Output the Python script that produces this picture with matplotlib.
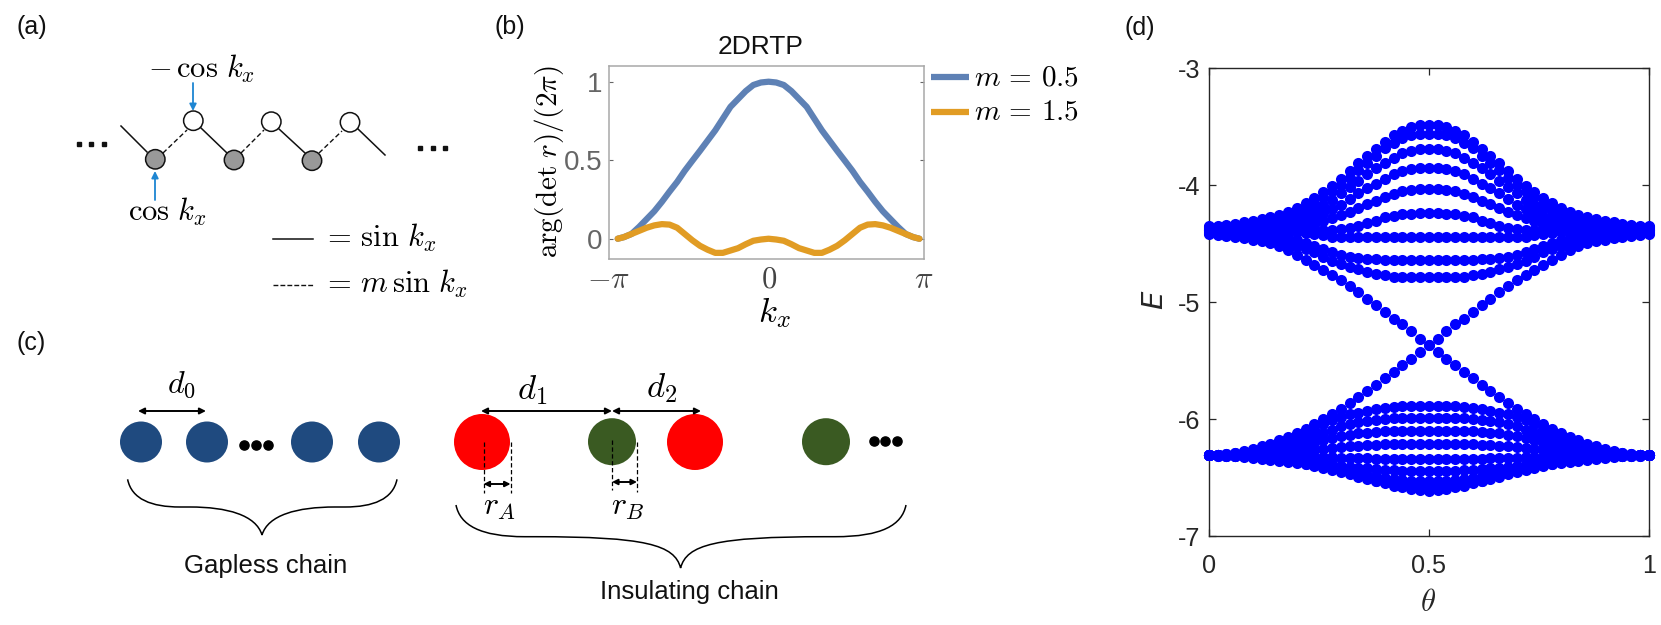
import numpy as np
import matplotlib
matplotlib.use("Agg")
import matplotlib.pyplot as plt
from matplotlib.patches import Circle, Ellipse, PathPatch
from matplotlib.path import Path

plt.rcParams['font.family'] = ['Liberation Sans', 'DejaVu Sans']
plt.rcParams['mathtext.fontset'] = 'cm'

W, H = 1661, 625

# ---- panel (b) data: half curves from k=0 outwards
k_half = [0, .15, .3, .45, .6, .75, .9, 1.05, 1.2, 1.35, 1.5, 1.65, 1.8, 1.95, 2.1, 2.25, 2.4, 2.55, 2.7, 2.85, 2.97]
m05_half = [1, .995, .979, .94, .89, .84, .765, .69, .625, .56, .497, .433, .362, .30, .235, .175, .125, .075, .03, .01, 0]
m15_half = [0, -.005, -.013, -.035, -.06, -.075, -.09, -.09, -.07, -.045, -.01, .03, .07, .09, .093, .085, .07, .05, .03, .01, 0]

# ---- panel (d) data: E per band for theta = 0, 0.02, ..., 0.5 (the spectrum is mirror symmetric)
theta_half = [i * 0.02 for i in range(26)]
u1 = [-4.353,-4.345,-4.339,-4.330,-4.316,-4.305,-4.291,-4.276,-4.254,-4.225,-4.191,-4.154,-4.111,-4.054,-4.006,-3.946,-3.875,-3.812,-3.746,-3.689,-3.630,-3.573,-3.535,-3.504,-3.487,-3.484]
u2 = [-4.360,-4.355,-4.350,-4.345,-4.338,-4.332,-4.325,-4.315,-4.300,-4.273,-4.239,-4.196,-4.154,-4.102,-4.048,-3.997,-3.934,-3.869,-3.812,-3.746,-3.684,-3.635,-3.598,-3.573,-3.564,-3.561]
u3 = [-4.368,-4.365,-4.362,-4.358,-4.354,-4.350,-4.345,-4.339,-4.325,-4.302,-4.273,-4.245,-4.205,-4.168,-4.125,-4.068,-4.014,-3.960,-3.906,-3.855,-3.806,-3.763,-3.726,-3.704,-3.689,-3.689]
u4 = [-4.375,-4.375,-4.374,-4.372,-4.370,-4.368,-4.365,-4.362,-4.353,-4.342,-4.325,-4.302,-4.273,-4.239,-4.205,-4.165,-4.120,-4.068,-4.028,-3.986,-3.943,-3.903,-3.880,-3.860,-3.852,-3.849]
u5 = [-4.382,-4.382,-4.382,-4.382,-4.382,-4.382,-4.382,-4.382,-4.379,-4.376,-4.370,-4.359,-4.339,-4.310,-4.282,-4.253,-4.225,-4.196,-4.162,-4.131,-4.102,-4.077,-4.051,-4.045,-4.034,-4.034]
u6 = [-4.385,-4.385,-4.385,-4.385,-4.385,-4.385,-4.385,-4.385,-4.385,-4.385,-4.385,-4.385,-4.385,-4.385,-4.382,-4.373,-4.362,-4.347,-4.325,-4.305,-4.273,-4.262,-4.248,-4.242,-4.239,-4.239]
u7 = [-4.390,-4.391,-4.392,-4.393,-4.394,-4.395,-4.396,-4.397,-4.398,-4.399,-4.402,-4.406,-4.416,-4.427,-4.439,-4.442,-4.444,-4.444,-4.444,-4.444,-4.444,-4.444,-4.444,-4.444,-4.444,-4.444]
u8 = [-4.398,-4.400,-4.402,-4.404,-4.407,-4.410,-4.413,-4.418,-4.427,-4.444,-4.467,-4.490,-4.518,-4.547,-4.575,-4.598,-4.612,-4.624,-4.632,-4.635,-4.638,-4.638,-4.638,-4.638,-4.638,-4.638]
u9 = [-4.407,-4.412,-4.416,-4.421,-4.427,-4.433,-4.441,-4.453,-4.473,-4.496,-4.524,-4.547,-4.575,-4.610,-4.644,-4.672,-4.701,-4.718,-4.743,-4.758,-4.769,-4.781,-4.786,-4.789,-4.789,-4.789]
u10 = [-4.416,-4.425,-4.430,-4.442,-4.453,-4.467,-4.481,-4.496,-4.524,-4.558,-4.601,-4.638,-4.681,-4.721,-4.772,-4.809,-4.860,-4.917,-4.969,-5.028,-5.085,-5.140,-5.191,-5.251,-5.316,-5.365]
l10 = [-6.311,-6.308,-6.296,-6.288,-6.271,-6.253,-6.234,-6.211,-6.182,-6.154,-6.120,-6.085,-6.043,-6.000,-5.960,-5.912,-5.863,-5.812,-5.758,-5.706,-5.652,-5.595,-5.541,-5.484,-5.427,-5.365]
l1 = [-6.311,-6.306,-6.300,-6.291,-6.280,-6.269,-6.254,-6.240,-6.220,-6.192,-6.157,-6.120,-6.086,-6.043,-6.012,-5.984,-5.958,-5.944,-5.927,-5.915,-5.907,-5.898,-5.892,-5.887,-5.887,-5.887]
l2 = [-6.311,-6.308,-6.306,-6.300,-6.294,-6.288,-6.280,-6.269,-6.254,-6.234,-6.212,-6.183,-6.149,-6.120,-6.092,-6.063,-6.043,-6.026,-6.015,-6.006,-6.001,-5.995,-5.992,-5.992,-5.992,-5.992]
l3 = [-6.311,-6.311,-6.308,-6.306,-6.303,-6.300,-6.294,-6.288,-6.277,-6.263,-6.249,-6.229,-6.206,-6.183,-6.166,-6.149,-6.135,-6.123,-6.115,-6.109,-6.106,-6.103,-6.100,-6.100,-6.100,-6.100]
l4 = [-6.311,-6.311,-6.311,-6.311,-6.308,-6.308,-6.306,-6.306,-6.303,-6.300,-6.291,-6.280,-6.266,-6.254,-6.246,-6.240,-6.234,-6.229,-6.223,-6.220,-6.217,-6.217,-6.217,-6.217,-6.217,-6.217]
l5 = [-6.311,-6.311,-6.311,-6.311,-6.311,-6.311,-6.311,-6.311,-6.314,-6.314,-6.317,-6.320,-6.323,-6.326,-6.328,-6.331,-6.334,-6.337,-6.337,-6.340,-6.340,-6.340,-6.340,-6.340,-6.340,-6.340]
l6 = [-6.311,-6.311,-6.314,-6.314,-6.317,-6.320,-6.323,-6.328,-6.334,-6.343,-6.354,-6.363,-6.371,-6.380,-6.388,-6.400,-6.408,-6.417,-6.422,-6.428,-6.434,-6.439,-6.442,-6.445,-6.448,-6.448]
l7 = [-6.311,-6.314,-6.314,-6.317,-6.320,-6.328,-6.334,-6.343,-6.351,-6.360,-6.371,-6.382,-6.394,-6.408,-6.422,-6.434,-6.448,-6.462,-6.476,-6.491,-6.505,-6.514,-6.522,-6.528,-6.533,-6.533]
l8 = [-6.311,-6.314,-6.317,-6.320,-6.326,-6.331,-6.340,-6.348,-6.357,-6.365,-6.377,-6.388,-6.402,-6.417,-6.434,-6.454,-6.474,-6.494,-6.511,-6.528,-6.542,-6.553,-6.565,-6.576,-6.582,-6.585]
l9 = [-6.311,-6.311,-6.311,-6.313,-6.316,-6.319,-6.322,-6.325,-6.330,-6.339,-6.348,-6.356,-6.365,-6.376,-6.393,-6.413,-6.439,-6.470,-6.499,-6.527,-6.550,-6.570,-6.584,-6.595,-6.607,-6.612]
bands = [u1, u2, u3, u4, u5, u6, u7, u8, u9, u10, l10, l1, l2, l3, l4, l5, l6, l7, l8, l9]

fig = plt.figure(figsize=(W / 100, H / 100), dpi=100, facecolor='white')

def panel(l, t, r, b):
    return fig.add_axes([l / W, 1 - b / H, (r - l) / W, (b - t) / H])

# overlay in pixel coordinates for the schematics
ov = fig.add_axes([0, 0, 1, 1], zorder=0)
ov.set_xlim(0, W); ov.set_ylim(H, 0); ov.axis('off')

for s, x, y in [('(a)', 17, 27), ('(b)', 495, 27), ('(c)', 16, 343), ('(d)', 1125, 28)]:
    ov.text(x, y, s, fontsize=18, ha='left', va='center', color='#111111')

# ---- (a)
open_sites = [(193.3, 120.7), (271.3, 121.7), (350, 122.3)]
fill_sites = [(155.3, 159.3), (234, 160), (312, 160.7)]
solid = [((121, 126), (147, 152)), ((201, 128), (227, 153)), ((279, 129), (305, 153)), ((358, 129), (385, 155))]
dashed = [((163, 153), (187, 130)), ((241, 153), (264, 130)), ((319, 153), (342, 131))]
for a, b in solid:
    ov.plot([a[0], b[0]], [a[1], b[1]], color='#111111', lw=1.1)
for a, b in dashed:
    ov.plot([a[0], b[0]], [a[1], b[1]], color='#111111', lw=1.0, dashes=(3.5, 2))
for c in open_sites:
    ov.add_patch(Circle(c, 9.7, fc='white', ec='#111111', lw=1.1, zorder=3))
for c in fill_sites:
    ov.add_patch(Circle(c, 9.7, fc='#999999', ec='#111111', lw=1.1, zorder=3))
for xs, y in [((79, 91, 104), 144), ((420, 433, 445), 148)]:
    ov.plot(xs, [y] * 3, ls='none', marker='s', ms=2.2, color='#111111')
for p0, p1 in [((193, 83), (193, 111)), ((155, 200), (155, 171))]:
    ov.annotate('', xy=p1, xytext=p0, arrowprops=dict(arrowstyle='-|>', color='#1E86D2', lw=1.3, mutation_scale=10, shrinkA=0, shrinkB=0))
ov.text(202, 69, r'$-\,\cos\,k_x$', fontsize=22, ha='center', va='center')
ov.text(167, 212, r'$\cos\,k_x$', fontsize=22, ha='center', va='center')
ov.plot([273, 313], [239, 239], color='#111111', lw=1.1)
ov.plot([273, 313], [285, 285], color='#111111', lw=1.0, dashes=(3.5, 1.5))
ov.text(322, 238, r'$=\,\sin\,k_x$', fontsize=22, ha='left', va='center')
ov.text(322, 284, r'$=\,m\,\sin\,k_x$', fontsize=22, ha='left', va='center')

# ---- (c)
for x in (141, 207, 312, 379):
    ov.add_patch(Ellipse((x, 442), 42, 41, fc='#1F4A7F', ec='none', zorder=2))
for x in (482, 695):
    ov.add_patch(Ellipse((x, 442), 56, 56, fc='#FF0000', ec='none', zorder=2))
for x in (612, 826):
    ov.add_patch(Ellipse((x, 441.7), 48, 47, fc='#3A5A22', ec='none', zorder=2))
ov.plot((244, 256, 268), [445] * 3, ls='none', marker='o', ms=6.6, color='black')
ov.plot((873.5, 885, 897), [441] * 3, ls='none', marker='o', ms=6.6, color='black')
for x0, x1, y, ms in [(138, 206, 411, 9), (481, 612, 411, 9), (612, 701, 411, 9), (483.5, 510.6, 484, 8), (612, 637, 482, 8)]:
    ov.annotate('', xy=(x1, y), xytext=(x0, y), zorder=4,
                arrowprops=dict(arrowstyle='<|-|>', color='black', lw=1.4, mutation_scale=ms, shrinkA=0, shrinkB=0))
for x, y0, y1 in [(483.5, 442, 493), (510.6, 442, 493), (612, 440, 490), (637, 442, 492)]:
    ov.plot([x, x], [y0, y1], color='black', lw=0.9, dashes=(3.5, 2), zorder=4)
for s, x, y, fs in [(r'$d_0$', 181, 385, 23), (r'$d_1$', 532, 390, 25), (r'$d_2$', 662, 388, 25),
                    (r'$r_A$', 499, 507, 23), (r'$r_B$', 628, 507, 23)]:
    ov.text(x, y, s, fontsize=fs, ha='center', va='center')

def brace(x0, y0, xf1, yf, xt, yt, xf2, x1):
    verts = [(x0, y0), (x0 + 4, y0 + 20), (x0 + 24, yf), (xf1 - 10, yf), (xf1, yf),
             (xt - 35, yf), (xt - 6, yf + 8), (xt, yt),
             (xt + 6, yf + 8), (xt + 35, yf), (xf2, yf), (xf2 + 10, yf),
             (x1 - 24, yf), (x1 - 4, y0 + 20), (x1, y0)]
    codes = [Path.MOVETO, Path.CURVE4, Path.CURVE4, Path.CURVE4, Path.LINETO,
             Path.CURVE4, Path.CURVE4, Path.CURVE4, Path.CURVE4, Path.CURVE4, Path.CURVE4,
             Path.LINETO, Path.CURVE4, Path.CURVE4, Path.CURVE4]
    ov.add_patch(PathPatch(Path(verts, codes), fc='none', ec='black', lw=1.1))

brace(127.6, 479.3, 190, 507, 262, 535, 335, 397)
brace(456, 505, 535, 536.7, 680.6, 568, 825, 906)
ov.text(266, 565.5, 'Gapless chain', fontsize=18.5, ha='center', va='center', color='#111111')
ov.text(689, 591.5, 'Insulating chain', fontsize=18.5, ha='center', va='center', color='#111111')

# ---- (b)
axb = panel(609, 66, 923.5, 259.3)
k = np.array([-v for v in k_half[:0:-1]] + k_half)
axb.plot(k, m05_half[:0:-1] + m05_half, color='#5E81B5', lw=4.5, solid_capstyle='round')
axb.plot(k, m15_half[:0:-1] + m15_half, color='#E19C24', lw=4.5, solid_capstyle='round')
axb.set_xlim(-np.pi, 3.05)
axb.set_ylim(-0.131, 1.1)
axb.set_xticks([-np.pi, 0, 3.05], [r'$-\pi$', r'$0$', r'$\pi$'], fontsize=22, color='#444444')
axb.set_yticks([0, 0.5, 1], ['0', '0.5', '1'], fontsize=20, color='#666666')
axb.tick_params(axis='x', length=0, pad=4)
axb.tick_params(axis='y', length=3, width=0.8, color='#666666', direction='in', right=True, pad=5)
for s in axb.spines.values():
    s.set_color('#A8A8A8'); s.set_linewidth(1.1)
ov.text(761, 47, '2DRTP', fontsize=19, ha='center', va='center', color='#111111')
ov.text(549, 162, r'$\arg(\det\,r)/(2\pi)$', fontsize=21, rotation=90, ha='center', va='center')
ov.text(774, 313, r'$k_x$', fontsize=25, ha='center', va='center')
ov.plot([931, 969], [77, 77], color='#5E81B5', lw=4.5, solid_capstyle='butt')
ov.plot([931, 969], [112, 112], color='#E19C24', lw=4.5, solid_capstyle='butt')
ov.text(974, 77, r'$m\,=\,0.5$', fontsize=21, ha='left', va='center')
ov.text(974, 112, r'$m\,=\,1.5$', fontsize=21, ha='left', va='center')

# ---- (d)
axd = panel(1208.7, 68.3, 1648.7, 536)
theta = np.array(theta_half + [1 - t for t in theta_half[-2::-1]])
for band in bands:
    axd.plot(theta, band + band[-2::-1], ls='none', marker='o', ms=8, mew=0, color='#0000FF', clip_on=False, zorder=5)
axd.set_xlim(0, 1); axd.set_ylim(-7, -3)
axd.set_xticks([0, 0.5, 1], ['0', '0.5', '1'], fontsize=18.2, color='#262626')
axd.set_yticks([-7, -6, -5, -4, -3], ['-7', '-6', '-5', '-4', '-3'], fontsize=18.2, color='#262626')
axd.tick_params(direction='in', length=5, width=0.9, color='#262626', top=True, right=True)
axd.tick_params(axis='x', pad=13)
axd.tick_params(axis='y', pad=6)
for s in axd.spines.values():
    s.set_color('#262626'); s.set_linewidth(1.0)
ov.text(1155, 300, r'$E$', fontsize=21, rotation=90, ha='center', va='center', color='#262626',
        math_fontfamily='dejavusans')
ov.text(1428, 603, r'$\theta$', fontsize=22, ha='center', va='center', color='#262626')

fig.savefig('out.png', dpi=100, facecolor='white')
